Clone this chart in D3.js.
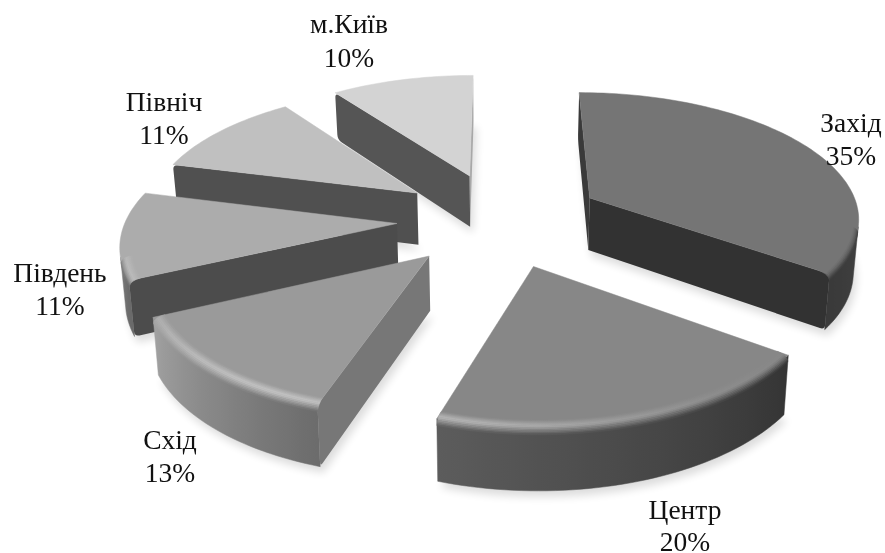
<!DOCTYPE html>
<html lang="uk">
<head>
<meta charset="utf-8">
<title>Розподіл за регіонами</title>
<script src="https://cdn.jsdelivr.net/npm/d3@7/dist/d3.min.js"></script>
<style>
  html, body { margin: 0; padding: 0; background: #fff; overflow: hidden; }
  svg { display: block; }
  text { font-family: "Liberation Serif", serif; font-size: 27.5px; fill: #111; }
</style>
</head>
<body>
<svg id="chart" width="885" height="553"></svg>
<script>
// Regions and their shares, clockwise from twelve o'clock
const regions = ["Захід", "Центр", "Схід", "Південь", "Північ", "м.Київ"];
const shares = [35, 20, 13, 11, 11, 10];

// Shades of each slice
const topShades = ["#757575", "#878787", "#9a9a9a", "#acacac", "#c0c0c0", "#d3d3d3"];
const startFaceShades = ["#3a3a3a", "#555555", "#777777", "#4c4c4c", "#505050", "#555555"];
const endFaceShades = ["#323232", "#555555", "#777777", "#4c4c4c", "#505050", "#a8a8a8"];
const rimStartShades = ["#5a5a5a", "#343434", "#6c6c6c", "#6a6a6a", "#808080", "#909090"];
const rimEndShades = ["#3a3a3a", "#5c5c5c", "#a2a2a2", "#c4c4c4", "#a0a0a0", "#909090"];

// Label anchors: centre x and baseline of each line
const labelX = [851, 685, 170, 60, 164, 349];
const labelY = [132, 519, 449, 282, 111, 33];
const shareY = [165, 551, 482, 315, 144, 67];

// Slices are painted from the back of the scene to the front
const paintOrder = [5, 4, 3, 2, 0, 1];

const explode = 0.38;
const perspective = 0.136;
const toRad = Math.PI / 180;

const xScale = d3.scaleLinear().domain([-1, 1]).range([500 - 271, 500 + 271]);
const yTop = d3.scaleLinear().domain([-1, 1]).range([219 + 125, 219 - 125]);
const yBottom = d3.scaleLinear().domain([-1, 1]).range([272 + 131, 272 - 131]);

// Projects a point on the pie (unit radius) at depth z, 0 = top plane, 1 = bottom plane
function project(X, Y, z) {
  const w = 1 + perspective * Y;
  const u = X / w;
  const v = Y / w;
  const xs = xScale(0) + (xScale(u) - xScale(0)) * (1 - 0.015 * z);
  return [xs, yTop(v) + (yBottom(v) - yTop(v)) * z];
}

const arcs = d3.pie().sort(null).startAngle(0).endAngle(2 * Math.PI)(shares);

const svg = d3.select("#chart");
const defs = svg.append("defs");
defs.append("filter").attr("id", "soft")
  .attr("x", "-20%").attr("y", "-20%").attr("width", "140%").attr("height", "140%")
  .append("feGaussianBlur").attr("stdDeviation", 4);

const outline = d3.line();

function slicePoint(arc, r, theta, z) {
  const mid = (arc.startAngle + arc.endAngle) / 2;
  const X = r * Math.sin(theta) + explode * Math.sin(mid);
  const Y = r * Math.cos(theta) + explode * Math.cos(mid);
  return project(X, Y, z);
}

function thetaSteps(arc) {
  const n = Math.ceil((arc.endAngle - arc.startAngle) / (1.5 * toRad));
  return d3.range(n + 1).map(i => arc.startAngle + (arc.endAngle - arc.startAngle) * i / n);
}

function sliceOutline(arc, z) {
  return [slicePoint(arc, 0, 0, z)].concat(thetaSteps(arc).map(t => slicePoint(arc, 1, t, z)));
}

function fillPoly(group, pts, colour) {
  group.append("path").attr("d", outline(pts) + "Z")
    .attr("fill", colour).attr("stroke", colour).attr("stroke-width", 0.5);
}

// Cut face whose two rim-side corners are rounded off
function fillFace(group, quad, colour) {
  const [a, b, c, d] = quad;
  const toward = (p, q, dist) => {
    const len = Math.hypot(q[0] - p[0], q[1] - p[1]) || 1;
    const k = Math.min(dist / len, 0.5);
    return [p[0] + (q[0] - p[0]) * k, p[1] + (q[1] - p[1]) * k];
  };
  const path = d3.path();
  const r = 5;
  const b1 = toward(b, a, r), b2 = toward(b, c, r), c1 = toward(c, b, r), c2 = toward(c, d, r);
  path.moveTo(a[0], a[1]);
  path.lineTo(b1[0], b1[1]);
  path.quadraticCurveTo(b[0], b[1], b2[0], b2[1]);
  path.lineTo(c1[0], c1[1]);
  path.quadraticCurveTo(c[0], c[1], c2[0], c2[1]);
  path.lineTo(d[0], d[1]);
  path.closePath();
  group.append("path").attr("d", path.toString()).attr("fill", colour);
}

// Horizontal gradient that follows a colour function along the visible rim
let gradientCount = 0;
function rimGradient(arc, thetaFrom, thetaTo, colourAt) {
  const id = "rim" + (gradientCount++);
  const x1 = slicePoint(arc, 1, thetaFrom, 0)[0];
  const x2 = slicePoint(arc, 1, thetaTo, 0)[0];
  const grad = defs.append("linearGradient").attr("id", id)
    .attr("gradientUnits", "userSpaceOnUse")
    .attr("x1", x1).attr("x2", x2).attr("y1", 0).attr("y2", 0);
  d3.range(17).forEach(k => {
    const t = thetaFrom + (thetaTo - thetaFrom) * k / 16;
    const x = slicePoint(arc, 1, t, 0)[0];
    grad.append("stop").attr("offset", (x - x1) / ((x2 - x1) || 1)).attr("stop-color", colourAt(t));
  });
  return "url(#" + id + ")";
}

// Soft cast shadows sit under every slice
const shadows = svg.append("g").attr("filter", "url(#soft)").attr("opacity", 0.14);
arcs.forEach(arc => {
  shadows.append("path")
    .attr("d", outline(sliceOutline(arc, 1)) + "Z")
    .attr("transform", "translate(3,6)")
    .attr("fill", "#000");
});

// Bevel strength along the rim, strongest towards the lower left
function bevelStrength(theta) {
  const c = Math.max(0, Math.cos(theta - 205 * toRad));
  return 0.42 * c * c * c;
}

paintOrder.forEach(i => {
  const arc = arcs[i];
  const g = svg.append("g").attr("class", "slice").attr("data-region", regions[i]);
  const steps = thetaSteps(arc);
  const rimShade = d3.scaleLinear()
    .domain([arc.startAngle, arc.endAngle])
    .range([rimStartShades[i], rimEndShades[i]])
    .interpolate(d3.interpolateRgb);

  // Angles of the wall strips that face the viewer
  const seen = steps.filter((t, k) => {
    const a = steps[Math.max(0, k - 1)], b = steps[Math.min(steps.length - 1, k + 1)];
    return d3.polygonArea([slicePoint(arc, 1, a, 0), slicePoint(arc, 1, b, 0),
                           slicePoint(arc, 1, b, 1), slicePoint(arc, 1, a, 1)]) > 0;
  });

  const strip = (r0, z0, r1, z1) => seen.map(t => slicePoint(arc, r0, t, z0))
    .concat(seen.slice().reverse().map(t => slicePoint(arc, r1, t, z1)));

  if (seen.length > 1) {
    const from = seen[0], to = seen[seen.length - 1];
    const wallFill = rimGradient(arc, from, to, rimShade);
    fillPoly(g, strip(1, 0, 1, 1), wallFill);
  }

  // Flat cut faces
  [[arc.startAngle, startFaceShades[i], 1], [arc.endAngle, endFaceShades[i], -1]].forEach(([t, colour, dir]) => {
    const quad = [slicePoint(arc, 0, 0, 0), slicePoint(arc, 1, t, 0),
                  slicePoint(arc, 1, t, 1), slicePoint(arc, 0, 0, 1)];
    if (d3.polygonArea(quad) * dir > 0) fillFace(g, quad, colour);
  });

  // Top face
  fillPoly(g, sliceOutline(arc, 0), topShades[i]);

  // Rounded edge between the top face and the wall
  if (seen.length > 1) {
    const from = seen[0], to = seen[seen.length - 1];
    const bands = 10;
    d3.range(bands).forEach(j => {
      const p0 = j / bands, p1 = (j + 1) / bands;
      const ang0 = p0 * Math.PI / 2, ang1 = p1 * Math.PI / 2;
      const r0 = 0.96 + 0.04 * Math.sin(ang0), r1 = 0.96 + 0.04 * Math.sin(ang1);
      const z0 = 0.11 * (1 - Math.cos(ang0)), z1 = 0.11 * (1 - Math.cos(ang1));
      const pm = (p0 + p1) / 2;
      const colourAt = t => {
        const peak = d3.interpolateRgb(topShades[i], "#ffffff")(bevelStrength(t));
        return pm < 0.4
          ? d3.interpolateRgb(topShades[i], peak)(pm / 0.4)
          : d3.interpolateRgb(peak, rimShade(t))((pm - 0.4) / 0.6);
      };
      fillPoly(g, strip(r0, z0, r1, z1), rimGradient(arc, from, to, colourAt));
    });
  }
});

// Region name with its share underneath
const labels = svg.append("g").attr("text-anchor", "middle");
regions.forEach((name, i) => {
  labels.append("text").attr("x", labelX[i]).attr("y", labelY[i]).text(name);
  labels.append("text").attr("x", labelX[i]).attr("y", shareY[i]).text(shares[i] + "%");
});
</script>
</body>
</html>
